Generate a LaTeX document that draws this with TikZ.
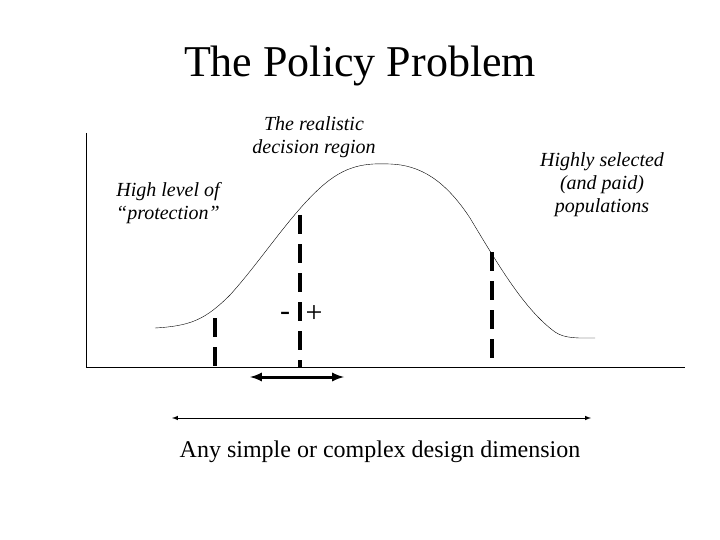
\documentclass[tikz,border=0pt]{standalone}
\usepackage{fontspec}
\setmainfont{Liberation Serif}
\begin{document}
\begin{tikzpicture}[x=1pt,y=-1pt,
  dashbar/.style={line width=4.5pt,dash pattern=on 19pt off 10pt},
  lbl/.style={font=\itshape\fontsize{20}{23}\selectfont,align=center},
  arr/.style={<->,>=latex}]
\useasboundingbox (0,0) rectangle (720,540);
\node (title) at (360,66) {\fontsize{44}{50}\selectfont The Policy Problem};
\coordinate (o) at (86,367);
\coordinate (ytop) at (86,133);
\coordinate (xend) at (685,367);
\draw (ytop) -- (o) -- (xend);
\draw (155,328) .. controls (190,326) and (205,320) .. (230,295)
  .. controls (260,262) and (290,215) .. (320,188)
  .. controls (345,165) and (365,163) .. (390,164)
  .. controls (420,165) and (445,180) .. (470,218)
  .. controls (500,268) and (525,310) .. (555,332)
  .. controls (565,339) and (580,338) .. (595,338);
\coordinate (a1) at (215,318); \coordinate (a2) at (215,367);
\coordinate (b1) at (300,215); \coordinate (b2) at (300,367);
\coordinate (c1) at (492,252); \coordinate (c2) at (492,367);
\draw[dashbar] (a1) -- (a2);
\draw[dashbar] (b1) -- (b2);
\draw[dashbar] (c1) -- (c2);
\node (minus) at (285,316) {\fontsize{30}{30}\selectfont -};
\node (plus) at (314,314) {\fontsize{30}{30}\selectfont +};
\coordinate (s1) at (250,377); \coordinate (s2) at (344,377);
\draw[arr,line width=3pt] (s1) -- (s2);
\coordinate (l1) at (172,418); \coordinate (l2) at (591,418);
\draw[arr,line width=1pt] (l1) -- (l2);
\node (dim) at (380,452) {\fontsize{24}{28}\selectfont Any simple or complex design dimension};
\node[lbl] (real) at (314,137) {The realistic\\decision region};
\node[lbl] (high) at (168,203) {High level of\\“protection”};
\node[lbl] (sel) at (602,185) {Highly selected\\(and paid)\\populations};
\end{tikzpicture}
\end{document}
